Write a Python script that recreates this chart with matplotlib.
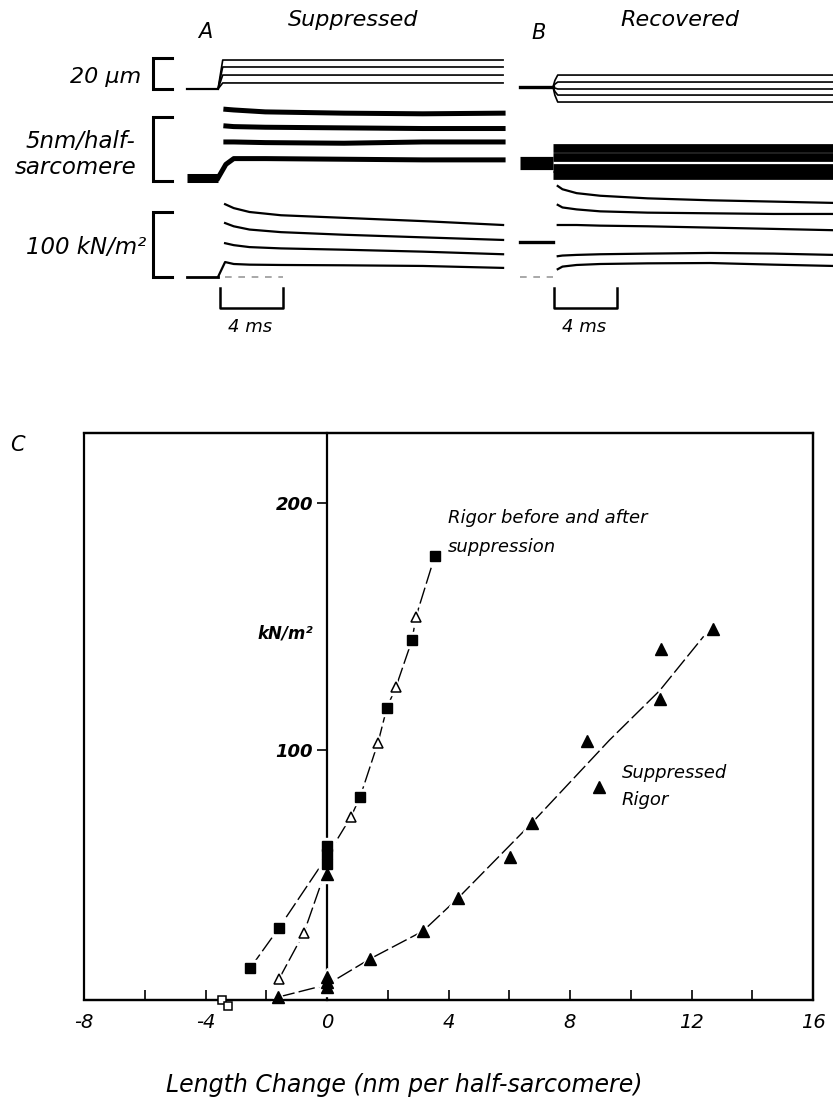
import matplotlib
matplotlib.use('Agg')
import matplotlib.pyplot as plt
from matplotlib.patches import Rectangle
from matplotlib import transforms

nan = float('nan')
W, H, DPI = 833, 1099, 100

# ---------------- Panels A / B : oscilloscope traces (time in ms after step) -------------
# Row 1: fibre length (um)
a_len_base_t = [-2.0, 0.0]
a_len_base = [0.0, 0.0]
a_len_t = [0.0, 0.3, 18.1]
a_len_traces = [[0.0, 18.7, 18.7], [0.0, 14.2, 14.2], [0.0, 9.0, 9.0], [0.0, 3.9, 3.9]]

b_len_base_t = [-2.1, 0.0]
b_len_base = [1.3, 1.3]
b_len_t = [0.0, 0.12, 0.3, 17.8]
b_len_traces = [[1.3, 5.5, 9.0, 9.0], [1.3, 3.1, 4.5, 4.5], [1.3, 0.6, 0.0, 0.0],
                [1.3, -1.6, -3.9, -3.9], [1.3, -4.0, -8.4, -8.4]]

# Row 2: sarcomere length change (nm per half-sarcomere)
a_sl_base_t = [-2.0, 0.0]
a_sl_base = [0.23, 0.23]
a_sl_t = [0.0, 0.5, 1.0, 3.0, 8.0, 13.0, 18.1]
a_sl_traces = [[nan, 5.6, 5.55, 5.4, 5.3, 5.25, 5.3],
               [nan, 4.3, 4.25, 4.2, 4.15, 4.1, 4.1],
               [nan, 3.05, 3.05, 3.0, 2.95, 3.05, 3.05],
               [0.23, 1.3, 1.75, 1.75, 1.7, 1.65, 1.65]]

b_sl_base_t = [-2.1, 0.0]
b_sl_base = [1.4, 1.4]
b_sl_t = [0.0, 17.8]
b_sl_traces = [[2.6, 2.6], [1.84, 1.84], [1.0, 1.0], [0.47, 0.47]]

# Row 3: tension (kN/m2)
a_ten_base_t = [-2.0, 0.0]
a_ten_base = [0.0, 0.0]
a_ten_t = [0.0, 0.45, 1.0, 2.0, 4.0, 8.0, 13.0, 18.1]
a_ten_traces = [[nan, 112, 106, 100, 95, 91, 86, 80],
                [nan, 83, 78, 73, 69, 65, 61, 57],
                [nan, 52, 49, 46, 44, 42, 39, 35],
                [0, 23, 20, 19, 18.5, 18, 17, 14]]
a_zero_t = [0.44, 4.13]

b_ten_base_t = [-2.1, 0.0]
b_ten_base = [54.0, 54.0]
b_ten_t = [0.3, 0.6, 1.5, 3.0, 6.0, 10.0, 14.0, 17.8]
b_ten_traces = [[140, 135, 129, 125, 121, 118, 116, 114],
                [111, 107, 104, 101, 99, 98, 97, 97],
                [80, 80, 80, 79, 78, 76, 74, 72],
                [32, 33, 34, 35, 36, 37, 36, 34],
                [12, 16, 18.5, 20, 21, 21.5, 19, 17]]
b_zero_t = [-2.1, 0.0]

# ---------------- Panel C : tension vs length change ----------------
supp_x = [-1.6, 0.0, 0.0, 0.0, 0.0, 1.41, 3.16, 4.31, 6.02, 6.74, 8.55, 8.95, 10.95, 11.0, 12.7]
supp_y = [0.0, 4.0, 6.0, 8.0, 50.0, 15.4, 26.7, 40.0, 56.5, 70.4, 103.7, 85.0, 120.6, 141.0, 149.0]
rig_sq_x = [-2.53, -1.58, 0.0, 0.0, 0.0, 1.09, 1.97, 2.8, 3.55]
rig_sq_y = [11.7, 28.0, 54.0, 58.0, 61.0, 81.0, 117.0, 144.5, 178.5]
rig_tri_x = [-1.58, -0.76, 0.79, 1.68, 2.27, 2.93]
rig_tri_y = [7.3, 26.0, 73.0, 103.0, 125.5, 154.0]
open_sq_x = [-3.46, -3.25]
open_sq_y = [-1.0, -3.6]

supp_fit_x = [-1.6, 0.0, 1.41, 3.16, 4.31, 6.74, 9.3, 10.95, 12.4]
supp_fit_y = [0.0, 5.0, 15.4, 26.7, 40.0, 70.4, 104.0, 124.0, 146.0]
rig_fit_x = [0.0, 0.79, 1.09, 1.68, 1.97, 2.27, 2.8, 2.93, 3.55]
rig_fit_y = [57.0, 73.0, 81.0, 103.0, 117.0, 125.5, 144.5, 154.0, 178.5]
rig_sq_low_x = [-2.53, -1.58, -0.05]
rig_sq_low_y = [11.7, 28.0, 56.0]
rig_tri_low_x = [-1.58, -0.76, -0.05]
rig_tri_low_y = [7.3, 26.0, 51.0]

x_ticks = list(range(-8, 17, 2))
y_ticks = [100, 200]

plt.rcParams['font.family'] = ['DejaVu Sans']
fig = plt.figure(figsize=(W / DPI, H / DPI), dpi=DPI)

def px_axes(x0, x1, y0, y1):
    ax = fig.add_axes([x0 / W, 1 - y1 / H, (x1 - x0) / W, (y1 - y0) / H])
    ax.set_axis_off()
    ax.patch.set_alpha(0)
    return ax

MS_PX = 15.75  # pixels per ms

def row_axes(x0, x1, step_px, y0, y1, zero_py, scale):
    ax = px_axes(x0, x1, y0, y1)
    ax.set_xlim((x0 - step_px) / MS_PX, (x1 - step_px) / MS_PX)
    ax.set_ylim((zero_py - y1) / scale, (zero_py - y0) / scale)
    return ax

def FIG_Y(py):
    return 1 - py / H

# rows: (y0, y1, zero_py, px per unit)
rows = [(40, 112, 89, 31 / 20), (100, 192, 181, 64 / 5), (180, 345, 277, 65 / 100)]

axA = [row_axes(140, 520, 218, *r) for r in rows]
axB = [row_axes(508, 833, 553, *r) for r in rows]

# Panel A traces
axA[0].plot(a_len_base_t, a_len_base, color='k', lw=1.6)
for tr in a_len_traces:
    axA[0].plot(a_len_t, tr, color='k', lw=1.2)
axA[1].plot(a_sl_base_t, a_sl_base, color='k', lw=6.5, solid_capstyle='butt')
for tr in a_sl_traces:
    axA[1].plot(a_sl_t, tr, color='k', lw=3.6)
axA[2].plot(a_ten_base_t, a_ten_base, color='k', lw=2.0)
for tr in a_ten_traces:
    axA[2].plot(a_ten_t, tr, color='k', lw=1.6)
axA[2].plot(a_zero_t, [0, 0], color='0.6', lw=1.2, ls=(0, (4, 4)))

# Panel B traces
axB[0].plot(b_len_base_t, b_len_base, color='k', lw=2.4)
for tr in b_len_traces:
    axB[0].plot(b_len_t, tr, color='k', lw=1.2)
axB[1].plot(b_sl_base_t, b_sl_base, color='k', lw=9.5, solid_capstyle='butt')
for tr in b_sl_traces:
    axB[1].plot(b_sl_t, tr, color='k', lw=6.3, solid_capstyle='butt')
axB[2].plot(b_ten_base_t, b_ten_base, color='k', lw=2.4)
for tr in b_ten_traces:
    axB[2].plot(b_ten_t, tr, color='k', lw=1.6)
axB[2].plot(b_zero_t, [0, 0], color='0.6', lw=1.2, ls=(0, (4, 4)))

# Calibration brackets (panel A axes, in data units)
brk_t0, brk_t1 = -4.13, -2.92
for ax, top in zip(axA, [20, 5, 100]):
    ax.plot([brk_t1, brk_t0, brk_t0, brk_t1], [top, top, 0, 0], color='k', lw=2.2,
            solid_joinstyle='miter', clip_on=False)

# Time calibration bars (4 ms)
for ax, t0 in [(axA[2], 0.13), (axB[2], 0.05)]:
    tr = transforms.blended_transform_factory(ax.transData, fig.transFigure)
    ax.plot([t0, t0, t0 + 4, t0 + 4], [FIG_Y(288), FIG_Y(308), FIG_Y(308), FIG_Y(288)],
            transform=tr, color='k', lw=1.8, clip_on=False)

tkw = dict(style='italic', color='k')
fig.text(205 / W, FIG_Y(32), 'A', fontsize=15, ha='center', va='center', **tkw)
fig.text(353 / W, FIG_Y(20), 'Suppressed', fontsize=16, ha='center', va='center', **tkw)
fig.text(539 / W, FIG_Y(33), 'B', fontsize=15, ha='center', va='center', **tkw)
fig.text(680 / W, FIG_Y(20), 'Recovered', fontsize=16, ha='center', va='center', **tkw)
fig.text(141 / W, FIG_Y(77), '20 μm', fontsize=16, ha='right', va='center', **tkw)
fig.text(80 / W, FIG_Y(142), '5nm/half-', fontsize=16.5, ha='center', va='center', **tkw)
fig.text(76 / W, FIG_Y(167), 'sarcomere', fontsize=16.5, ha='center', va='center', **tkw)
fig.text(146 / W, FIG_Y(248), '100 kN/m²', fontsize=16.5, ha='right', va='center', **tkw)
fig.text(250 / W, FIG_Y(327), '4 ms', fontsize=13, ha='center', va='center', **tkw)
fig.text(584 / W, FIG_Y(327), '4 ms', fontsize=13, ha='center', va='center', **tkw)

# ---------------- Panel C ----------------
axC = fig.add_axes([84 / W, 1 - 1000 / H, (813 - 84) / W, (1000 - 433) / H])
axC.set_xlim(-8, 16)
axC.set_ylim(-1.2, 228.3)
for s in ['top', 'right', 'bottom', 'left']:
    axC.spines[s].set_linewidth(1.6)
axC.spines['left'].set_position(('data', 0))
axC.add_patch(Rectangle((0, 0), 1, 1, transform=axC.transAxes, fill=False, lw=1.6,
                        ec='k', zorder=5, clip_on=False))

dash = (0, (12, 3))
axC.plot(supp_fit_x, supp_fit_y, color='k', lw=1.0, ls=dash, zorder=2)
axC.plot(rig_fit_x, rig_fit_y, color='k', lw=1.0, ls=dash, zorder=2)
axC.plot(rig_sq_low_x, rig_sq_low_y, color='k', lw=1.0, ls=dash, zorder=2)
axC.plot(rig_tri_low_x, rig_tri_low_y, color='k', lw=1.0, ls=dash, zorder=2)

# white halos so lines break at symbols
halo = dict(color='white', ls='none', zorder=3, clip_on=False)
axC.plot(supp_x, supp_y, marker='^', ms=13, **halo)
axC.plot(rig_sq_x, rig_sq_y, marker='s', ms=11, **halo)
axC.plot(rig_tri_x, rig_tri_y, marker='^', ms=12, **halo)

axC.plot(supp_x, supp_y, marker='^', ms=8.5, color='k', ls='none', zorder=4, clip_on=False)
axC.plot(rig_sq_x, rig_sq_y, marker='s', ms=6.5, color='k', ls='none', zorder=4, clip_on=False)
axC.plot(rig_tri_x, rig_tri_y, marker='^', ms=7.5, mfc='white', mec='k', mew=1.1,
         ls='none', zorder=4, clip_on=False)
axC.plot(open_sq_x, open_sq_y, marker='s', ms=5.5, mfc='white', mec='k', mew=1.1,
         ls='none', zorder=6, clip_on=False)

axC.set_xticks(x_ticks)
axC.set_xticklabels(['%d' % v if v % 4 == 0 else '' for v in x_ticks])
axC.tick_params(axis='x', direction='in', length=7, width=1.2, pad=9, labelsize=14,
                top=False)
axC.set_yticks(y_ticks)
axC.set_yticklabels([str(v) for v in y_ticks])
axC.tick_params(axis='y', direction='out', length=7, width=1.2, pad=3, labelsize=13,
                right=False)
for lab in axC.get_xticklabels() + axC.get_yticklabels():
    lab.set_style('italic')
for lab in axC.get_yticklabels():
    lab.set_weight('bold')

axC.text(-0.46, 147, 'kN/m²', fontsize=12, ha='right', va='center', style='italic',
         weight='bold')
axC.text(3.98, 194, 'Rigor before and after', fontsize=13, ha='left', va='center',
         style='italic')
axC.text(3.98, 182, 'suppression', fontsize=13, ha='left', va='center', style='italic')
axC.text(9.7, 90.7, 'Suppressed', fontsize=13, ha='left', va='center', style='italic')
axC.text(9.7, 79.8, 'Rigor', fontsize=13, ha='left', va='center', style='italic')

fig.text(17 / W, FIG_Y(445), 'C', fontsize=15, ha='center', va='center', **tkw)
fig.text(404 / W, FIG_Y(1085), 'Length Change (nm per half-sarcomere)', fontsize=17,
         ha='center', va='center', **tkw)

fig.savefig('out.png', dpi=DPI)
